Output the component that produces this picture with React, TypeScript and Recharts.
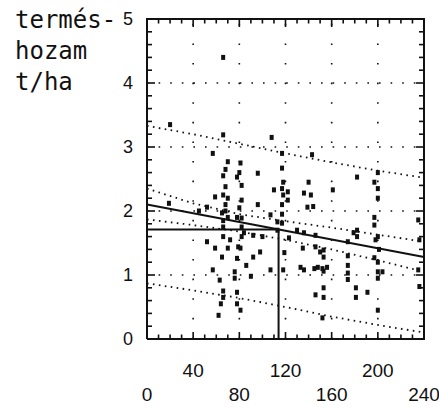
import React from 'react';
import { ScatterChart, Scatter, XAxis, YAxis, ReferenceLine } from 'recharts';

// ---- data ----
const xTicksUpperRow = [40, 120, 200];
const xTicksLowerRow = [0, 80, 160, 240];
const xMajorTicks = [0, 40, 80, 120, 160, 200, 240];
const xMinorTicks = [10, 20, 30, 50, 60, 70, 90, 100, 110, 130, 140, 150, 170, 180, 190, 210, 220, 230];
const xLabelTicks = [0, 40, 80, 120, 160, 200, 240];
const yTickLabels = [0, 1, 2, 3, 4, 5];
const yMinorTicks = [0.2, 0.4, 0.6, 0.8, 1.2, 1.4, 1.6, 1.8, 2.2, 2.4, 2.6, 2.8, 3.2, 3.4, 3.6, 3.8, 4.2, 4.4, 4.6, 4.8];
const yGrid = [1, 2, 3, 4];
const xGrid = [40, 80, 120, 160, 200];
const xDomain = [0, 240];
const yDomain = [0, 5];

const axisTitleLines = ['termés-', 'hozam', 't/ha'];

const obsX = [
  20, 66, 66, 108, 57, 70, 81, 117, 143, 96, 78, 182, 197, 200, 200, 68, 82, 140, 118, 117,
  110, 118, 142, 136, 59, 66, 82, 161, 122, 122, 139, 144, 96, 68, 68, 52, 19, 45, 107, 78,
  82, 65, 197, 235, 113, 117, 113, 84, 66, 66, 82, 92, 130, 136, 146, 182, 179, 197, 123, 182,
  198, 236, 174, 52, 59, 79, 70, 81, 98, 92, 65, 78, 135, 146, 150, 153, 153, 197, 200, 174,
  174, 156, 133, 148, 152, 57, 63, 66, 66, 62, 76, 76, 78, 81, 78, 107, 118, 136, 145, 153,
  153, 153, 146, 174, 174, 181, 181, 191, 200, 200, 204, 200, 236, 235, 152,
  66, 66, 70, 70, 72, 80, 80, 82, 68, 64, 117, 117, 117, 119, 200, 200, 201, 86, 90, 100,
];
const obsY = [
  3.35, 4.4, 3.19, 3.15, 2.9, 2.77, 2.75, 2.67, 2.88, 2.59, 2.53, 2.53, 2.45, 2.6, 2.35, 2.38, 2.4, 2.45, 2.45, 2.35,
  2.33, 2.25, 2.25, 2.28, 2.22, 2.25, 2.17, 2.33, 2.17, 2.3, 2.06, 2.07, 2.1, 2.1, 2.0, 2.06, 2.12, 2.0, 1.94, 1.9,
  1.89, 1.97, 1.9, 1.86, 1.83, 1.81, 1.7, 1.66, 1.75, 1.6, 1.6, 1.62, 1.7, 1.66, 1.62, 1.7, 1.66, 1.78, 1.58, 1.6,
  1.55, 1.55, 1.52, 1.52, 1.42, 1.44, 1.42, 1.42, 1.36, 1.28, 1.28, 1.26, 1.42, 1.44, 1.36, 1.39, 1.28, 1.27, 1.2, 1.3,
  1.15, 1.12, 1.12, 1.12, 1.1, 1.08, 0.92, 0.75, 0.65, 0.37, 1.05, 0.95, 0.73, 0.45, 0.55, 1.08, 1.08, 1.08, 1.1, 1.06,
  0.8, 0.65, 0.69, 1.03, 0.93, 0.8, 0.65, 0.73, 1.05, 0.95, 1.05, 0.45, 0.82, 1.08, 0.33,
  2.55, 1.85, 2.2, 1.9, 1.55, 2.6, 2.05, 1.75, 2.65, 0.55, 2.9, 2.1, 1.95, 1.35, 2.2, 1.6, 1.4, 1.15, 0.98, 1.6,
];

const regressionStart = { x: 0, y: 2.1 };
const regressionEnd = { x: 240, y: 1.28 };
const meanX = 114;
const meanY = 1.71;

const bandX = [0, 40, 80, 120, 160, 200, 240];
const confUpper = [2.35, 2.12, 1.95, 1.84, 1.74, 1.63, 1.52];
const confLower = [1.87, 1.78, 1.68, 1.55, 1.4, 1.23, 1.05];
const predUpper = [3.33, 3.2, 3.05, 2.9, 2.76, 2.63, 2.52];
const predLower = [0.87, 0.76, 0.64, 0.5, 0.35, 0.22, 0.1];

const points = obsX.map((x, i) => ({ x, y: obsY[i] }));
const toLine = (ys: number[]) => bandX.map((x, i) => ({ x, y: ys[i] }));
const frameData = [
  { x: xDomain[0], y: yDomain[0] }, { x: xDomain[0], y: yDomain[1] }, { x: xDomain[1], y: yDomain[1] },
  { x: xDomain[1], y: yDomain[0] }, { x: xDomain[0], y: yDomain[0] },
];
const atY = (xs: number[], y: number) => xs.map((x) => ({ x, y }));
const atX = (ys: number[], x: number) => ys.map((y) => ({ x, y }));

// ---- styles ----
const INK = '#111';
const tickFont = '"Liberation Sans", Arial, sans-serif';
const titleFont = '"DejaVu Sans Mono", monospace';
const bandStyle = { stroke: INK, strokeWidth: 1.8, strokeDasharray: '1.6 4.4' };
const frameStyle = { stroke: INK, strokeWidth: 2 };
const GAP = 8; // default tickSize (6) + tickMargin (2)

// tick-mark shapes (drawn at data positions on the frame, pointing inward)
const tickShape = (dir: 'up' | 'down' | 'right' | 'left', len: number) => (props: any) => {
  const cx = Number(props.cx);
  const cy = Number(props.cy);
  if (dir === 'up') return <rect x={cx - 0.8} y={cy - len} width={1.6} height={len} fill={INK} />;
  if (dir === 'down') return <rect x={cx - 0.8} y={cy} width={1.6} height={len} fill={INK} />;
  if (dir === 'right') return <rect x={cx} y={cy - 0.8} width={len} height={1.6} fill={INK} />;
  return <rect x={cx - len} y={cy - 0.8} width={len} height={1.6} fill={INK} />;
};

const BottomTick = (props: any) => {
  const x = Number(props.x);
  const ay = Number(props.y) - GAP;
  const v = props.payload.value;
  return (
    <g>
      {xTicksUpperRow.includes(v) && (
        <text x={x} y={ay + 38} textAnchor="middle" fontSize={19} fontFamily={tickFont} fill={INK}>{v}</text>
      )}
      {xTicksLowerRow.includes(v) && (
        <text x={x} y={ay + 62} textAnchor="middle" fontSize={19} fontFamily={tickFont} fill={INK}>{v}</text>
      )}
    </g>
  );
};

const LeftTick = (props: any) => {
  const ax = Number(props.x) + GAP;
  const y = Number(props.y);
  const v = props.payload.value;
  return (
    <g>
      <text x={ax - 14} y={y + 6} textAnchor="end" fontSize={18} fontFamily={tickFont} fill={INK}>{v}</text>
      {v === yTickLabels[yTickLabels.length - 1] &&
        axisTitleLines.map((t, i) => (
          <text key={t} x={15} y={y + 9 + i * 31} fontSize={24} fontFamily={titleFont} fill={INK}>{t}</text>
        ))}
    </g>
  );
};

const PointShape = (props: any) => {
  const { cx, cy } = props;
  return <rect x={cx - 2} y={cy - 2.5} width={4} height={5} fill={INK} />;
};
const NoShape = () => <circle r={0} />;

const common = { xAxisId: 'b', yAxisId: 'l', isAnimationActive: false, legendType: 'none' as const };

export default function App() {
  return (
    <div style={{ position: 'absolute', left: 0, top: 0, width: 439, height: 408, background: '#fff' }}>
      <ScatterChart width={439} height={408} margin={{ top: 19, right: 15, bottom: 0, left: 0 }}>
        <XAxis xAxisId="b" type="number" dataKey="x" domain={xDomain} ticks={xLabelTicks} interval={0}
          orientation="bottom" height={69} tickLine={false}
          axisLine={{ stroke: INK, strokeWidth: 2 }} tick={<BottomTick />} />
        <YAxis yAxisId="l" type="number" dataKey="y" domain={yDomain} ticks={yTickLabels} interval={0}
          orientation="left" width={147} tickLine={false}
          axisLine={{ stroke: INK, strokeWidth: 2 }} tick={<LeftTick />} />

        {yGrid.map((v) => (
          <ReferenceLine key={'gy' + v} xAxisId="b" yAxisId="l" y={v} stroke={INK} strokeWidth={1.6} strokeDasharray="1.6 10" />
        ))}
        {xGrid.map((v) => (
          <ReferenceLine key={'gx' + v} xAxisId="b" yAxisId="l" x={v} stroke={INK} strokeWidth={1.6} strokeDasharray="1.6 18" />
        ))}

        <ReferenceLine xAxisId="b" yAxisId="l" segment={[regressionStart, regressionEnd]} stroke={INK} strokeWidth={2} />
        <ReferenceLine xAxisId="b" yAxisId="l" segment={[{ x: meanX, y: 0 }, { x: meanX, y: meanY }]} stroke={INK} strokeWidth={2} />
        <ReferenceLine xAxisId="b" yAxisId="l" segment={[{ x: 0, y: meanY }, { x: meanX, y: meanY }]} stroke={INK} strokeWidth={2} />

        <Scatter {...common} data={frameData} line={frameStyle} shape={NoShape} />

        <Scatter {...common} data={atY(xMajorTicks, yDomain[0])} shape={tickShape('up', 7)} />
        <Scatter {...common} data={atY(xMinorTicks, yDomain[0])} shape={tickShape('up', 4.5)} />
        <Scatter {...common} data={atY(xMajorTicks, yDomain[1])} shape={tickShape('down', 8)} />
        <Scatter {...common} data={atY(xMinorTicks, yDomain[1])} shape={tickShape('down', 4.5)} />
        <Scatter {...common} data={atX(yTickLabels, xDomain[0])} shape={tickShape('right', 8)} />
        <Scatter {...common} data={atX(yMinorTicks, xDomain[0])} shape={tickShape('right', 5)} />
        <Scatter {...common} data={atX(yTickLabels, xDomain[1])} shape={tickShape('left', 8)} />
        <Scatter {...common} data={atX(yMinorTicks, xDomain[1])} shape={tickShape('left', 5)} />

        <Scatter {...common} data={toLine(confUpper)} line={bandStyle} shape={NoShape} />
        <Scatter {...common} data={toLine(confLower)} line={bandStyle} shape={NoShape} />
        <Scatter {...common} data={toLine(predUpper)} line={bandStyle} shape={NoShape} />
        <Scatter {...common} data={toLine(predLower)} line={bandStyle} shape={NoShape} />

        <Scatter {...common} data={points} shape={PointShape} />
      </ScatterChart>
    </div>
  );
}
